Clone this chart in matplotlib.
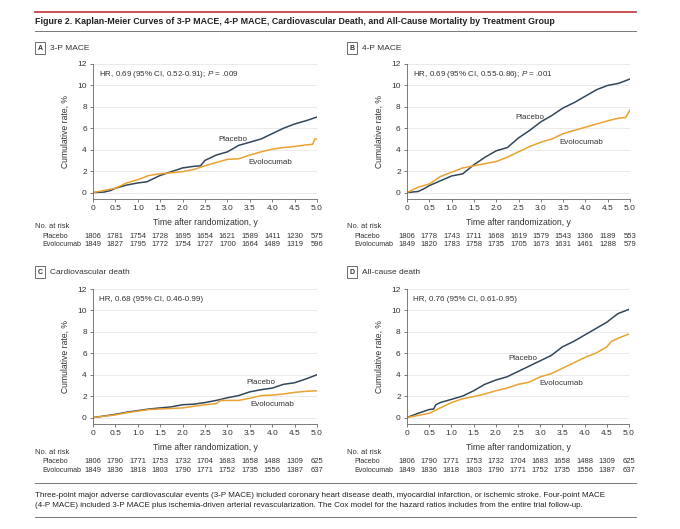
import matplotlib
matplotlib.use("Agg")
import matplotlib.pyplot as plt
from matplotlib.transforms import blended_transform_factory

plt.rcParams['font.family'] = 'sans-serif'
plt.rcParams['font.sans-serif'] = ['Liberation Sans Narrow', 'Liberation Sans', 'DejaVu Sans']
plt.rcParams['mathtext.fontset'] = 'custom'
plt.rcParams['mathtext.it'] = 'sans:italic'
plt.rcParams['mathtext.rm'] = 'sans'

W, H = 680, 529
PLACEBO_C = '#33475a'
EVO_C = '#e9a232'
TEXT_C = '#333333'

# at-risk time points and tick labels
risk_times = [0, 0.5, 1.0, 1.5, 2.0, 2.5, 3.0, 3.5, 4.0, 4.5, 5.0]
xtick_labels = ['0', '0.5', '1.0', '1.5', '2.0', '2.5', '3.0', '3.5', '4.0', '4.5', '5.0']

# Panel A: 3-P MACE
a_t_pla = [0, 0.25, 0.4, 0.5, 0.75, 1.0, 1.2, 1.35, 1.5, 1.75, 2.0, 2.25, 2.4, 2.5, 2.75,
           3.0, 3.25, 3.5, 3.75, 4.0, 4.25, 4.5, 4.75, 5.0]
a_pla = [0, 0.05, 0.2, 0.4, 0.7, 0.9, 1.0, 1.3, 1.6, 1.95, 2.3, 2.45, 2.5, 3.0, 3.5,
         3.8, 4.4, 4.7, 5.0, 5.5, 6.0, 6.4, 6.7, 7.05]
a_t_evo = [0, 0.25, 0.5, 0.75, 1.0, 1.25, 1.5, 1.75, 2.0, 2.25, 2.5, 2.75, 3.0, 3.25,
           3.5, 3.75, 4.0, 4.25, 4.5, 4.75, 4.9, 4.95, 5.0]
a_evo = [0, 0.2, 0.4, 0.9, 1.2, 1.6, 1.75, 1.85, 1.95, 2.15, 2.5, 2.8, 3.1, 3.15,
         3.5, 3.8, 4.05, 4.2, 4.3, 4.45, 4.5, 5.0, 5.0]
a_risk_pla = [1806, 1781, 1754, 1728, 1695, 1654, 1621, 1589, 1411, 1230, 575]
a_risk_evo = [1849, 1827, 1795, 1772, 1754, 1727, 1700, 1664, 1489, 1319, 596]

# Panel B: 4-P MACE
b_t_pla = [0, 0.25, 0.4, 0.5, 0.75, 1.0, 1.25, 1.5, 1.75, 2.0, 2.25, 2.5, 2.75, 3.0,
           3.25, 3.5, 3.75, 4.0, 4.25, 4.5, 4.75, 5.0]
b_pla = [0, 0.1, 0.4, 0.65, 1.1, 1.55, 1.75, 2.6, 3.3, 3.9, 4.2, 5.1, 5.8, 6.6,
         7.2, 7.9, 8.4, 9.0, 9.6, 10.0, 10.2, 10.6]
b_t_evo = [0, 0.25, 0.5, 0.75, 1.0, 1.25, 1.5, 1.75, 2.0, 2.25, 2.5, 2.75, 3.0, 3.25,
           3.5, 3.75, 4.0, 4.25, 4.5, 4.75, 4.9, 5.0]
b_evo = [0, 0.5, 0.8, 1.5, 1.9, 2.3, 2.5, 2.7, 2.9, 3.3, 3.8, 4.3, 4.7, 5.0,
         5.5, 5.8, 6.1, 6.4, 6.7, 6.95, 7.0, 7.7]
b_risk_pla = [1806, 1778, 1743, 1711, 1668, 1619, 1579, 1543, 1366, 1189, 553]
b_risk_evo = [1849, 1820, 1783, 1758, 1735, 1705, 1673, 1631, 1461, 1288, 579]

# Panel C: cardiovascular death
c_t_pla = [0, 0.5, 0.75, 1.0, 1.25, 1.5, 1.75, 2.0, 2.25, 2.5, 2.75, 3.0, 3.25, 3.5,
           3.75, 4.0, 4.25, 4.5, 4.75, 5.0]
c_pla = [0, 0.3, 0.5, 0.65, 0.8, 0.9, 1.0, 1.2, 1.25, 1.4, 1.6, 1.85, 2.05, 2.4,
         2.6, 2.75, 3.1, 3.25, 3.6, 4.0]
c_t_evo = [0, 0.5, 0.75, 1.0, 1.25, 1.5, 1.75, 2.0, 2.25, 2.5, 2.75, 2.85, 3.0, 3.25,
           3.5, 3.75, 4.0, 4.25, 4.5, 4.75, 5.0]
c_evo = [0, 0.25, 0.45, 0.6, 0.75, 0.8, 0.85, 0.9, 1.05, 1.2, 1.3, 1.6, 1.6, 1.6,
         1.8, 2.05, 2.1, 2.2, 2.35, 2.45, 2.5]
c_risk_pla = [1806, 1790, 1771, 1753, 1732, 1704, 1683, 1658, 1488, 1309, 625]
c_risk_evo = [1849, 1836, 1818, 1803, 1790, 1771, 1752, 1735, 1556, 1387, 637]

# Panel D: all-cause death
d_t_pla = [0, 0.25, 0.5, 0.6, 0.65, 0.75, 1.0, 1.25, 1.5, 1.75, 2.0, 2.25, 2.5, 2.75,
           3.0, 3.25, 3.5, 3.75, 4.0, 4.25, 4.5, 4.75, 5.0]
d_pla = [0, 0.4, 0.75, 0.8, 1.2, 1.4, 1.7, 2.0, 2.5, 3.1, 3.5, 3.8, 4.3, 4.8,
         5.3, 5.8, 6.6, 7.1, 7.7, 8.3, 8.9, 9.7, 10.1]
d_t_evo = [0, 0.25, 0.5, 0.75, 1.0, 1.25, 1.5, 1.75, 2.0, 2.25, 2.5, 2.75, 3.0, 3.25,
           3.5, 3.75, 4.0, 4.25, 4.5, 4.6, 4.75, 5.0]
d_evo = [0, 0.2, 0.4, 0.9, 1.4, 1.75, 1.95, 2.2, 2.5, 2.75, 3.1, 3.3, 3.8, 4.1,
         4.6, 5.1, 5.6, 6.0, 6.6, 7.1, 7.4, 7.8]
d_risk_pla = [1806, 1790, 1771, 1753, 1732, 1704, 1683, 1658, 1488, 1309, 625]
d_risk_evo = [1849, 1836, 1818, 1803, 1790, 1771, 1752, 1735, 1556, 1387, 637]

panels = [
    dict(letter='A', name='3-P MACE', box=(93, 317, 64, 199), lab=(35, 48),
         hr='HR, 0.69 (95% CI, 0.52-0.91); $\\it{P}$ = .009',
         pla=(a_t_pla, a_pla), evo=(a_t_evo, a_evo), risk=(a_risk_pla, a_risk_evo),
         pla_lab=(2.79, 4.95), evo_lab=(3.47, 2.83)),
    dict(letter='B', name='4-P MACE', box=(407, 630, 64, 199), lab=(347, 48),
         hr='HR, 0.69 (95% CI, 0.55-0.86); $\\it{P}$ = .001',
         pla=(b_t_pla, b_pla), evo=(b_t_evo, b_evo), risk=(b_risk_pla, b_risk_evo),
         pla_lab=(2.42, 7.0), evo_lab=(3.41, 4.69)),
    dict(letter='C', name='Cardiovascular death', box=(93, 317, 289, 424), lab=(35, 272),
         hr='HR, 0.68 (95% CI, 0.46-0.99)',
         pla=(c_t_pla, c_pla), evo=(c_t_evo, c_evo), risk=(c_risk_pla, c_risk_evo),
         pla_lab=(3.42, 3.3), evo_lab=(3.52, 1.18)),
    dict(letter='D', name='All-cause death', box=(407, 629, 289, 424), lab=(347, 272),
         hr='HR, 0.76 (95% CI, 0.61-0.95)',
         pla=(d_t_pla, d_pla), evo=(d_t_evo, d_evo), risk=(d_risk_pla, d_risk_evo),
         pla_lab=(2.28, 5.53), evo_lab=(2.98, 3.14)),
]

fig = plt.figure(figsize=(W / 100, H / 100), dpi=100)


def fx(x):
    return x / W


def fy(y):
    return 1 - y / H


# header rules and title
fig.add_artist(plt.Line2D([fx(35), fx(636)], [fy(12), fy(12)], color='#c4303c', lw=1.2))
fig.add_artist(plt.Line2D([fx(35), fx(636)], [fy(31), fy(31)], color='#777777', lw=0.7))
fig.text(fx(35), fy(22), 'Figure 2. Kaplan-Meier Curves of 3-P MACE, 4-P MACE, Cardiovascular Death, '
         'and All-Cause Mortality by Treatment Group', fontsize=6.4, fontweight='bold',
         color='#222222', va='center', ha='left')

for p in panels:
    l, r, t, b = p['box']
    ax = fig.add_axes([fx(l), fy(b), (r - l) / W, (b - t) / H])
    ax.plot(*p['pla'], color=PLACEBO_C, lw=1.1, solid_joinstyle='miter')
    ax.plot(*p['evo'], color=EVO_C, lw=1.1, solid_joinstyle='miter')
    ax.set_xlim(0, 5.0)
    ax.set_ylim(-0.6, 12)
    ax.set_yticks(range(0, 13, 2))
    ax.set_xticks(risk_times)
    ax.set_xticklabels(xtick_labels)
    ax.yaxis.grid(True, color='#e6e6e6', lw=0.6)
    ax.set_axisbelow(True)
    for s in ['top', 'right']:
        ax.spines[s].set_visible(False)
    for s in ['left', 'bottom']:
        ax.spines[s].set_color('#666666')
        ax.spines[s].set_linewidth(0.6)
    ax.tick_params(length=2, width=0.6, color='#666666', labelsize=6,
                   labelcolor=TEXT_C, pad=2.5)
    ax.set_ylabel('Cumulative rate, %', fontsize=6.2, color=TEXT_C, labelpad=5)
    ax.set_xlabel('Time after randomization, y', fontsize=6.2, color=TEXT_C, labelpad=4)
    ax.text(0.13, 11, p['hr'], fontsize=5.8, color=TEXT_C, va='center', ha='left')
    ax.text(*p['pla_lab'], 'Placebo', fontsize=5.8, color=TEXT_C, va='center', ha='left')
    ax.text(*p['evo_lab'], 'Evolocumab', fontsize=5.8, color=TEXT_C, va='center', ha='left')

    # panel label
    lx, ly = p['lab']
    fig.text(fx(lx + 5), fy(ly), p['letter'], fontsize=5, fontweight='bold', color='#333333',
             ha='center', va='center',
             bbox=dict(boxstyle='square,pad=0.35', fc='white', ec='#555555', lw=0.6))
    fig.text(fx(lx + 15), fy(ly), p['name'], fontsize=6, color=TEXT_C, ha='left', va='center')

    # number at risk
    tr = blended_transform_factory(ax.transData, fig.transFigure)
    fig.text(fx(lx), fy(b + 28), 'No. at risk', fontsize=5.4, color=TEXT_C, ha='left', va='center')
    fig.text(fx(lx + 7), fy(b + 37.5), 'Placebo', fontsize=5.1, color=TEXT_C, ha='left', va='center')
    fig.text(fx(lx + 7), fy(b + 46), 'Evolocumab', fontsize=5.1, color=TEXT_C, ha='left', va='center')
    for xt, n1, n2 in zip(risk_times, *p['risk']):
        ax.text(xt, fy(b + 37.5), str(n1), transform=tr, fontsize=5.5, color=TEXT_C,
                ha='center', va='center', clip_on=False)
        ax.text(xt, fy(b + 46), str(n2), transform=tr, fontsize=5.5, color=TEXT_C,
                ha='center', va='center', clip_on=False)

# footnote
fig.add_artist(plt.Line2D([fx(35), fx(636)], [fy(483), fy(483)], color='#777777', lw=0.7))
fig.add_artist(plt.Line2D([fx(35), fx(636)], [fy(517), fy(517)], color='#777777', lw=0.7))
fig.text(fx(35), fy(495.5), 'Three-point major adverse cardiovascular events (3-P MACE) included coronary '
         'heart disease death, myocardial infarction, or ischemic stroke. Four-point MACE',
         fontsize=5.8, color='#222222', ha='left', va='center')
fig.text(fx(35), fy(505.5), '(4-P MACE) included 3-P MACE plus ischemia-driven arterial revascularization. '
         'The Cox model for the hazard ratios includes from the entire trial follow-up.',
         fontsize=5.8, color='#222222', ha='left', va='center')

fig.savefig('out.png', dpi=100)
